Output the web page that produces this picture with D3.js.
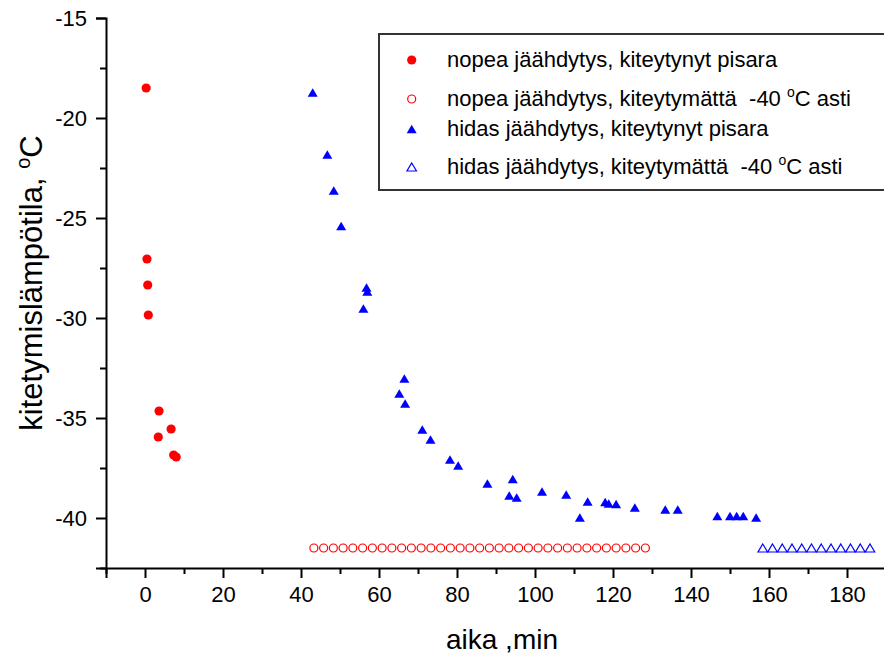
<!DOCTYPE html>
<html><head><meta charset="utf-8">
<script src="https://cdn.jsdelivr.net/npm/d3@7"></script>
<style>
html,body{margin:0;padding:0;background:#fff;}
svg{display:block;font-family:"Liberation Sans",Arial,sans-serif;}
</style></head>
<body>
<svg id="chart" width="884" height="655"></svg>
<script>
// ---- data ----
const fastX = [0.3, 0.5, 0.7, 0.85, 3.6, 6.7, 3.4, 7.35, 8.0];
const fastY = [-18.5, -27.05, -28.35, -29.85, -34.65, -35.55, -35.95, -36.85, -36.95];

const fastNoneX = [43.3, 45.8, 48.3, 50.8, 53.3, 55.8, 58.3, 60.8, 63.3, 65.8, 68.3, 70.8,
  73.3, 75.8, 78.3, 80.8, 83.3, 85.8, 88.3, 90.8, 93.3, 95.8, 98.3, 100.8, 103.3, 105.8,
  108.3, 110.8, 113.3, 115.8, 118.3, 120.8, 123.3, 125.8, 128.3];
const fastNoneY = -41.5;

const slowX = [43, 46.75, 48.4, 50.3, 56.8, 57, 56, 66.5, 65.2, 66.7, 71.1, 73.2, 78.2, 80.3,
  87.8, 94.3, 93.4, 95.3, 101.8, 108, 111.5, 113.5, 118.0, 118.9, 120.8, 125.6, 133.4, 136.6,
  146.75, 150, 151.7, 153.4, 156.7];
const slowY = [-18.73, -21.83, -23.63, -25.4, -28.48, -28.68, -29.52, -33.02, -33.77, -34.27,
  -35.57, -36.07, -37.07, -37.37, -38.27, -38.05, -38.87, -38.97, -38.68, -38.83, -39.97,
  -39.17, -39.2, -39.27, -39.3, -39.47, -39.57, -39.57, -39.9, -39.9, -39.9, -39.9, -39.98];

const slowNoneX = [158.4, 160.9, 163.4, 165.9, 168.4, 170.9, 173.4, 175.9, 178.4, 180.9, 183.4, 185.9];
const slowNoneY = -41.5;

const xTicks = [0, 20, 40, 60, 80, 100, 120, 140, 160, 180];
const xMinorTicks = [-10, 10, 30, 50, 70, 90, 110, 130, 150, 170, 190];
const yTicks = [-15, -20, -25, -30, -35, -40];
const yMinorTicks = [-17.5, -22.5, -27.5, -32.5, -37.5, -42.5];
const legendLabels = [
  "nopea jäähdytys, kiteytynyt pisara",
  "nopea jäähdytys, kiteytymättä  -40 ",
  "hidas jäähdytys, kiteytynyt pisara",
  "hidas jäähdytys, kiteytymättä  -40 "
];

// ---- layout ----
const svg = d3.select("#chart");
const x = d3.scaleLinear().domain([-10, 190]).range([106, 886]);
const y = d3.scaleLinear().domain([-42.5, -15]).range([568, 18]);

const RED = "#ff0000", BLUE = "#0000ff";

function tri(w, h) {
  return `M0,${-h/2}L${w/2},${h/2}L${-w/2},${h/2}Z`;
}
const fmt = d => String(d);   // plain hyphen-minus as in the original

// axes
const xAxis = d3.axisBottom(x).tickValues(xTicks).tickSize(10).tickPadding(8).tickFormat(fmt);
const xMinor = d3.axisBottom(x).tickValues(xMinorTicks).tickSize(6).tickFormat("");
const yAxis = d3.axisLeft(y).tickValues(yTicks).tickSize(10).tickPadding(9).tickFormat(fmt);
const yMinor = d3.axisLeft(y).tickValues(yMinorTicks).tickSize(6).tickFormat("");

function styleAxis(g) {
  g.selectAll("path.domain").attr("stroke", "#000").attr("stroke-width", 2);
  g.selectAll(".tick line").attr("stroke", "#000").attr("stroke-width", 2);
  g.selectAll(".tick text").attr("fill", "#000").style("font-size", "22px")
    .style("font-family", "Liberation Sans, Arial, sans-serif");
}

svg.append("g").attr("transform", `translate(0,${y(-42.5)})`).call(xAxis).call(styleAxis);
svg.append("g").attr("transform", `translate(0,${y(-42.5)})`).call(xMinor).call(styleAxis)
  .select("path.domain").remove();
const gy = svg.append("g").attr("transform", `translate(${x(-10)},0)`).call(yAxis).call(styleAxis);
svg.append("g").attr("transform", `translate(${x(-10)},0)`).call(yMinor).call(styleAxis)
  .select("path.domain").remove();
gy.selectAll(".tick text").attr("dy", "0.36em");

// axis titles
svg.append("text").attr("x", 502).attr("y", 649).attr("text-anchor", "middle")
  .style("font-size", "28px").attr("fill", "#000").attr("xml:space", "preserve").text("aika ,min");

const yt = svg.append("text").attr("transform", `translate(42,283) rotate(-90)`)
  .attr("text-anchor", "middle").style("font-size", "31px").attr("fill", "#000");
yt.append("tspan").text("kitetymislämpötila, ");
yt.append("tspan").attr("dy", "-12").style("font-size", "20px").text("o");
yt.append("tspan").attr("dy", "12").text("C");

// data marks
svg.append("g").selectAll("circle").data(fastNoneX).join("circle")
  .attr("cx", d => x(d)).attr("cy", y(fastNoneY)).attr("r", 4)
  .attr("fill", "none").attr("stroke", RED).attr("stroke-width", 1.2);

svg.append("g").selectAll("path").data(slowNoneX).join("path")
  .attr("transform", d => `translate(${x(d)},${y(slowNoneY)})`).attr("d", tri(9.5, 8))
  .attr("fill", "none").attr("stroke", BLUE).attr("stroke-width", 1.2);

svg.append("g").selectAll("circle").data(fastX.map((d, i) => [d, fastY[i]])).join("circle")
  .attr("cx", d => x(d[0])).attr("cy", d => y(d[1])).attr("r", 4.6).attr("fill", RED);

svg.append("g").selectAll("path").data(slowX.map((d, i) => [d, slowY[i]])).join("path")
  .attr("transform", d => `translate(${x(d[0])},${y(d[1])})`).attr("d", tri(10, 8.5))
  .attr("fill", BLUE);

// legend
const lg = svg.append("g");
lg.append("rect").attr("x", 379).attr("y", 34).attr("width", 520).attr("height", 156)
  .attr("fill", "#fff").attr("stroke", "#333").attr("stroke-width", 2);
const rowsY = [60, 99, 129, 167];
const mx = 411.7, tx = 447;
lg.append("circle").attr("cx", mx).attr("cy", rowsY[0]).attr("r", 4.6).attr("fill", RED);
lg.append("circle").attr("cx", mx).attr("cy", rowsY[1]).attr("r", 4).attr("fill", "none").attr("stroke", RED).attr("stroke-width", 1.2);
lg.append("path").attr("transform", `translate(${mx},${rowsY[2]})`).attr("d", tri(10, 8.5)).attr("fill", BLUE);
lg.append("path").attr("transform", `translate(${mx},${rowsY[3]})`).attr("d", tri(9.5, 8)).attr("fill", "none").attr("stroke", BLUE).attr("stroke-width", 1.2);
legendLabels.forEach((lab, i) => {
  const t = lg.append("text").attr("x", tx).attr("y", rowsY[i] + 7).style("font-size", "22px")
    .attr("fill", "#000").attr("xml:space", "preserve");
  t.append("tspan").text(lab);
  if (i === 1 || i === 3) {
    t.append("tspan").attr("dy", "-9").style("font-size", "14px").text("o");
    t.append("tspan").attr("dy", "9").text("C asti");
  }
});
</script>
</body></html>
